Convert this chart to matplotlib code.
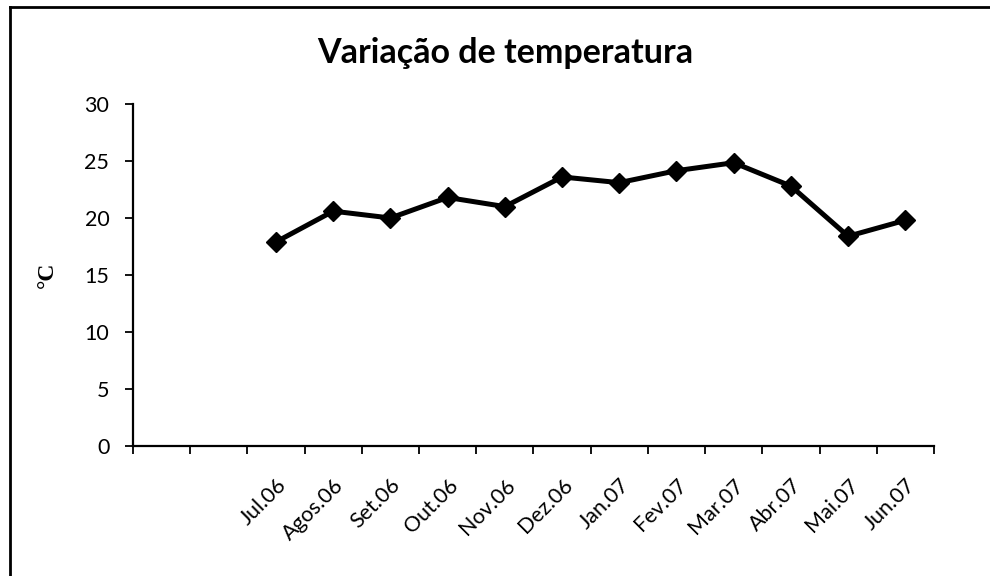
import matplotlib.pyplot as plt
import matplotlib.lines as mlines
import numpy as np

# Monthly mean temperature (°C)
months = ['Jul.06', 'Agos.06', 'Set.06', 'Out.06', 'Nov.06', 'Dez.06',
          'Jan.07', 'Fev.07', 'Mar.07', 'Abr.07', 'Mai.07', 'Jun.07']
temps = [17.9, 20.6, 20.0, 21.8, 21.0, 23.6, 23.1, 24.15, 24.85, 22.8, 18.4, 19.8]
n_empty = 2  # two blank category slots before the first month

plt.rcParams['font.family'] = ['Lato', 'DejaVu Sans']

fig = plt.figure(figsize=(9.9, 5.76), dpi=100)
ax = fig.add_axes([0.1343, 0.2257, 0.8091, 0.59375])

n_cat = n_empty + len(months)
x = np.arange(len(months)) + n_empty + 0.5
ax.plot(x, temps, color='black', lw=3.6, marker='D', markersize=10, clip_on=False)

ax.set_xlim(0, n_cat)
ax.set_ylim(0, 30)
ax.set_yticks(range(0, 31, 5))
ax.set_xticks(np.arange(n_cat + 1))
ax.set_xticklabels([])
ax.set_xticks(x, minor=True)
ax.set_xticklabels(months, minor=True, rotation=45, ha='right', va='top',
                   rotation_mode='anchor', fontsize=15.5)
ax.tick_params(axis='x', which='minor', length=0, pad=21)
ax.tick_params(axis='x', which='major', direction='out', length=6, width=1.3)
ax.tick_params(axis='y', direction='out', length=6, width=1.3, labelsize=15.5, pad=11)

for s in ['top', 'right']:
    ax.spines[s].set_visible(False)
for s in ['left', 'bottom']:
    ax.spines[s].set_linewidth(1.6)

ax.set_ylabel('°C', family='Liberation Serif', fontweight='bold', fontsize=17, labelpad=19)
fig.text(0.51, 0.908, 'Variação de temperatura', ha='center', va='center',
         fontsize=24.5, fontweight='bold')

# outer chart frame (only left and top edges visible)
fig.add_artist(mlines.Line2D([10 / 990, 10 / 990], [0, 1 - 7 / 576], color='black', lw=2,
                             transform=fig.transFigure))
fig.add_artist(mlines.Line2D([10 / 990, 1], [1 - 7 / 576, 1 - 7 / 576], color='black', lw=2,
                             transform=fig.transFigure))

fig.savefig('out.png', dpi=100)
